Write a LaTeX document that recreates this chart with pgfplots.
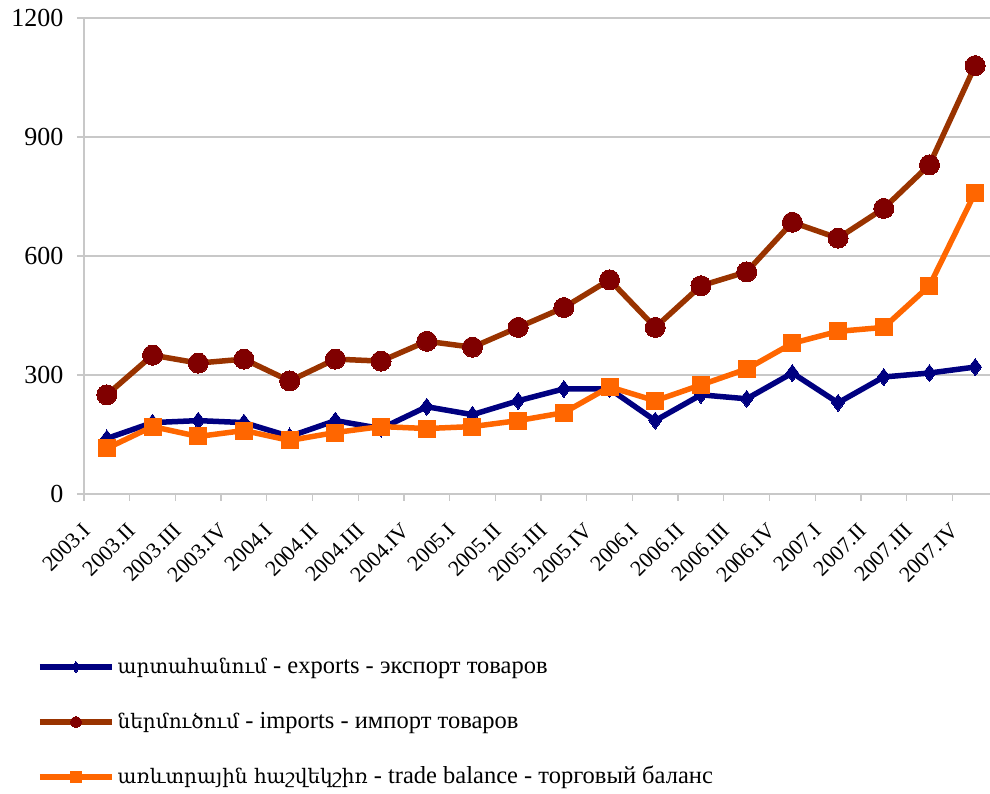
\documentclass[border=0pt]{standalone}
\usepackage{fontspec}
\setmainfont{Liberation Serif}
\newfontfamily\armfont{DejaVu Serif}
\usepackage{pgfplots}
\pgfplotsset{compat=1.18}
\usepackage{pgfplotstable}

\definecolor{expc}{HTML}{000080}
\definecolor{impl}{HTML}{993300}
\definecolor{impm}{HTML}{800000}
\definecolor{tbc}{HTML}{FF6600}
\definecolor{gridc}{HTML}{C8C8C8}

\pgfplotstableread{
x exp imp tb
0 140 250 115
1 180 350 170
2 185 330 145
3 180 340 160
4 145 285 135
5 185 340 155
6 165 335 170
7 220 385 165
8 200 370 170
9 235 420 185
10 265 470 205
11 265 540 270
12 185 420 235
13 250 525 275
14 240 560 315
15 305 685 380
16 230 645 410
17 295 720 420
18 305 830 525
19 320 1080 760
}\data

\begin{document}
\begin{tikzpicture}[x=1bp,y=1bp]
\path[use as bounding box] (0,0) rectangle (990,794);
\begin{axis}[
  at={(84bp,300bp)}, anchor=south west,
  scale only axis, width=914bp, height=476bp,
  xmin=-0.5, xmax=19.5, ymin=0, ymax=1200,
  clip=false,
  axis x line*=bottom, axis y line*=left,
  axis line style={gridc, line width=1.3bp, -},
  ytick={0,300,600,900,1200},
  /pgf/number format/assume math mode=true,
  /pgf/number format/1000 sep={},
  ymajorgrids, major grid style={gridc, line width=1.3bp},
  xtick={-0.5,0.5,...,19.5},
  x tick label as interval,
  xticklabels={2003.I,2003.II,2003.III,2003.IV,2004.I,2004.II,2004.III,2004.IV,2005.I,2005.II,2005.III,2005.IV,2006.I,2006.II,2006.III,2006.IV,2007.I,2007.II,2007.III,2007.IV},
  tick align=outside, major tick length=7bp,
  tick style={gridc, line width=1.3bp},
  yticklabel style={font=\fontsize{26bp}{30bp}\selectfont, xshift=-10bp},
  xticklabel style={font=\fontsize{22bp}{24bp}\selectfont, xshift=-26bp, yshift=-16bp, rotate=45, anchor=north east},
  legend style={at={(axis description cs:-0.0514,-0.34)}, anchor=north west,
    draw=none, fill=none, inner sep=0pt,
    font=\fontsize{24.5bp}{28bp}\selectfont,
    nodes={text height=17bp, text depth=5bp, inner sep=0pt},
    row sep=33bp},
  legend cell align=left,
  legend image code/.code={\draw[#1, mark repeat=2, mark phase=2, mark size=5.5bp] plot coordinates {(0bp,0bp) (36bp,0bp) (72bp,0bp)}; \node at (74bp,0) {};},
]
\addplot[expc, line width=5.5bp, mark=diamond*, mark size=8.5bp, mark options={solid, fill=expc, draw=expc, line width=0pt}] table[x=x, y=exp] {\data};
\addlegendentry{{\armfont\fontsize{20bp}{22bp}\selectfont արտահանում} - exports - экспорт товаров}
\addplot[impl, line width=5.5bp, mark=*, mark size=10bp, mark options={solid, fill=impm, draw=impm, line width=0pt}] table[x=x, y=imp] {\data};
\addlegendentry{{\armfont\fontsize{20bp}{22bp}\selectfont ներմուծում} - imports - импорт товаров}
\addplot[tbc, line width=5.5bp, mark=square*, mark size=8.5bp, mark options={solid, fill=tbc, draw=tbc, line width=0pt}] table[x=x, y=tb] {\data};
\addlegendentry{{\armfont\fontsize{20bp}{22bp}\selectfont առևտրային հաշվեկշիռ} - trade balance - торговый баланс}
\end{axis}
\end{tikzpicture}
\end{document}
